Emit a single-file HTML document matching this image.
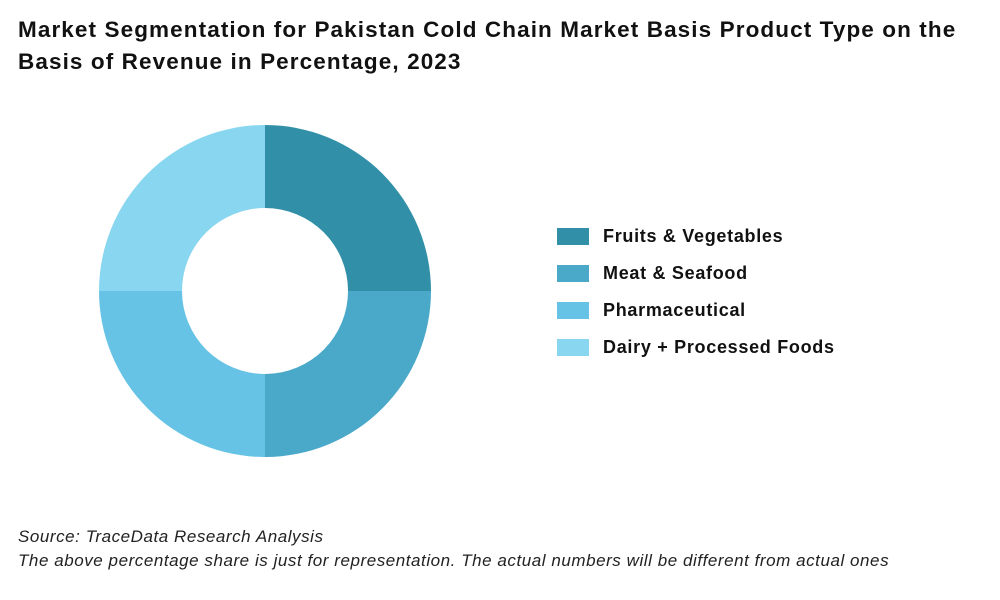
<!DOCTYPE html>
<html><head><meta charset="utf-8">
<style>
body{margin:0;background:#fff;width:1000px;height:600px;overflow:hidden;font-family:"Liberation Sans",sans-serif;}
.title{position:absolute;left:18px;top:14px;font-size:22.5px;letter-spacing:1.1px;font-weight:bold;color:#111;line-height:32px;width:990px;white-space:nowrap;}
.src{position:absolute;left:18px;font-size:17px;letter-spacing:0.55px;font-style:italic;color:#222;white-space:nowrap;}
.leg{position:absolute;left:557px;height:24px;display:flex;align-items:center;font-size:18px;letter-spacing:0.7px;font-weight:bold;color:#111;white-space:nowrap;}
.sw{width:32px;height:17px;margin-right:14px;}
</style></head><body>
<div class="title">Market Segmentation for Pakistan Cold Chain Market Basis Product Type on the<br>Basis of Revenue in Percentage, 2023</div>
<svg id="chart" width="1000" height="600" style="position:absolute;left:0;top:0"></svg>
<div id="legend"></div>
<div class="src" style="top:527px">Source: TraceData Research Analysis</div>
<div class="src" style="top:551px">The above percentage share is just for representation. The actual numbers will be different from actual ones</div>
<script>
const categories=["Fruits & Vegetables","Meat & Seafood","Pharmaceutical","Dairy + Processed Foods"];
const values=[25,25,25,25];
const colors=["#3190a8","#4aa9c9","#66c3e5","#88d6f0"];
const cx=265,cy=291,R=166,r=83;
const svg=document.getElementById('chart');
const total=values.reduce((a,b)=>a+b,0);
let a0=-Math.PI/2;
function pt(rad,a){return [cx+rad*Math.cos(a),cy+rad*Math.sin(a)];}
values.forEach((v,i)=>{
  const a1=a0+v/total*2*Math.PI;
  const large=(a1-a0)>Math.PI?1:0;
  const [x0,y0]=pt(R,a0),[x1,y1]=pt(R,a1),[x2,y2]=pt(r,a1),[x3,y3]=pt(r,a0);
  const p=document.createElementNS('http://www.w3.org/2000/svg','path');
  p.setAttribute('d',`M${x0},${y0}A${R},${R} 0 ${large} 1 ${x1},${y1}L${x2},${y2}A${r},${r} 0 ${large} 0 ${x3},${y3}Z`);
  p.setAttribute('fill',colors[i]);
  
  
  svg.appendChild(p);
  a0=a1;
});
const leg=document.getElementById('legend');
const ly0=228;
categories.forEach((c,i)=>{
  const d=document.createElement('div');
  d.className='leg';
  d.style.top=(ly0+i*37.3-4)+'px';
  
  
  d.innerHTML=`<div class="sw" style="background:${colors[i]}"></div><span>${c.replace('&','&amp;')}</span>`;
  leg.appendChild(d);
});
</script>
</body></html>
